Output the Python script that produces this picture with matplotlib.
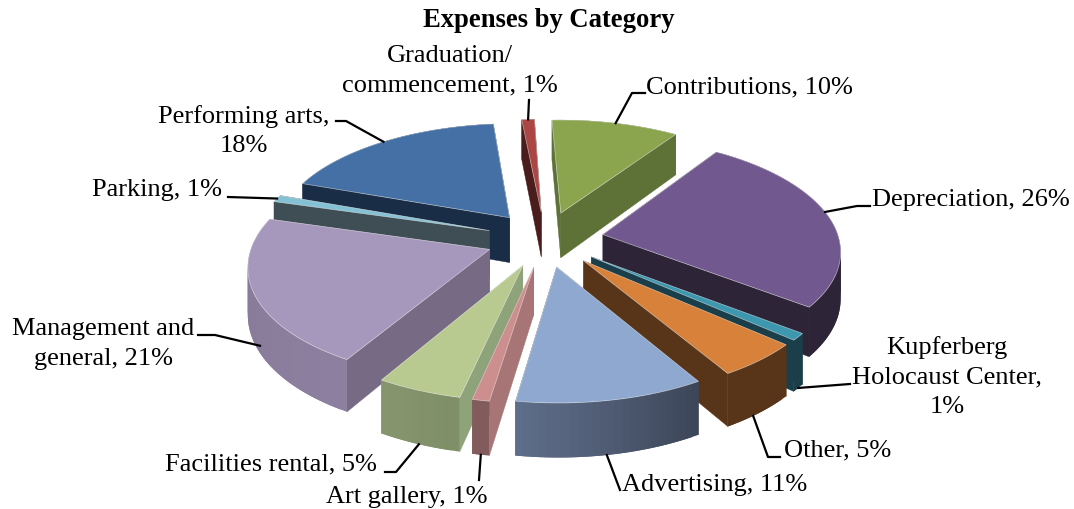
import numpy as np
import matplotlib
matplotlib.use("Agg")
import matplotlib.pyplot as plt
from matplotlib.patches import Polygon
from matplotlib.colors import to_rgb

categories = ["Contributions", "Depreciation", "Kupferberg Holocaust Center", "Other", "Advertising",
              "Art gallery", "Facilities rental", "Management and general", "Parking",
              "Performing arts", "Graduation/commencement"]
values = [10, 26, 1, 5, 11, 1, 5, 21, 1, 18, 1]
label_texts = ["Contributions, 10%", "Depreciation, 26%", "Kupferberg\nHolocaust Center,\n1%", "Other, 5%",
               "Advertising, 11%", "Art gallery, 1%", "Facilities rental, 5%", "Management and\ngeneral, 21%",
               "Parking, 1%", "Performing arts,\n18%", "Graduation/\ncommencement, 1%"]
title = "Expenses by Category"

top_colors = ["#8aa54e", "#71588f", "#3c97af", "#d7813a", "#8fa8d0", "#cd8e8e", "#b8ca90", "#a698bc", "#85c1d4", "#4570a6", "#aa4643"]
wall_colors = ["#5e7136", "#2e2438", "#1a3f4b", "#583519", "#3d4659", "#a77575", "#8ea37a", "#766a85", "#3e4e54", "#1a2d47", "#4a1c1c"]
outer_a = ["#5e7136", "#2e2438", "#1a3f4b", "#583519", "#3d4659", "#825c5c", "#7f8f68", "#8d7f9f", "#3e4e54", "#1a2d47", "#4a1c1c"]
outer_b = ["#5e7136", "#2e2438", "#1a3f4b", "#583519", "#5f6f8b", "#825c5c", "#87966f", "#857795", "#3e4e54", "#1a2d47", "#4a1c1c"]

label_pos = [(646, 87, "left"), (872, 200, "left"), (947, 377, "center"), (784, 450, "left"), (622, 485, "left"),
             (326, 497, "left"), (165, 464, "left"), (103, 344, "center"), (92, 190, "left"), (244, 131, "center"), (450, 71, "center")]
leader_mid = [[(632, 93), (645, 93)], [(857, 206), (870, 206)], [(850, 384)], [(768, 457), (780, 457)], [(620, 490)],
              [(479, 480)], [(396, 472), (385, 472)], [(215, 335), (198, 335)], [(228, 197)], [(346, 121), (336, 121)], [(529, 100)]]
leader_z = [0, 0, 1, 1, 1, 1, 1, 0.85, 0, 0, 0]
leader_shift = [0, -3, 0, 2, 1, 0, 0, -5, 0, 0, 0]

CX, CY, AX, BY, K, H, EXPL, START = 545, 239, 236, 111, 0.126, 46, 0.25, -2.0


def proj(u, v, z=0):
    w = 1 + K * v
    return CX + AX * u / w, CY - BY * v / w + z * H / w


plt.rcParams["font.family"] = ["Liberation Serif", "DejaVu Serif"]
fig = plt.figure(figsize=(10.74, 5.09), dpi=100)
ax = fig.add_axes([0, 0, 1, 1])
ax.set_xlim(0, 1074)
ax.set_ylim(509, 0)
ax.axis("off")

vals = np.array(values, float)
edges = START + np.concatenate([[0], np.cumsum(vals)]) / vals.sum() * 360
mids = np.radians((edges[:-1] + edges[1:]) / 2)
z = 2.0
anchors = {}
for i in np.argsort(-np.cos(mids)):
    a0, a1 = np.radians(edges[i]), np.radians(edges[i + 1])
    mid = mids[i]
    ou, ov = EXPL * np.sin(mid), EXPL * np.cos(mid)
    ang = np.linspace(a0, a1, max(3, int(np.degrees(a1 - a0) / 1.5)))
    us, vs = ou + np.sin(ang), ov + np.cos(ang)
    ca, cb = np.array(to_rgb(outer_a[i])), np.array(to_rgb(outer_b[i]))
    walls = []
    for e in (0, -1):
        q = [proj(ou, ov, 0), proj(us[e], vs[e], 0), proj(us[e], vs[e], 1), proj(ou, ov, 1)]
        walls.append(((ov + vs[e]) / 2, q, to_rgb(wall_colors[i]), 0.3))
    n = len(ang)
    for j in range(n - 1):
        t = j / max(1, n - 2)
        col = tuple(ca * (1 - t) + cb * t)
        k = min(j + 2, n - 1)
        q = [proj(us[j], vs[j], 0), proj(us[k], vs[k], 0), proj(us[k], vs[k], 1), proj(us[j], vs[j], 1)]
        walls.append(((vs[j] + vs[j + 1]) / 2, q, col, 0))
    for d, q, col, lw in sorted(walls, key=lambda w: -w[0]):
        ax.add_patch(Polygon(q, closed=True, fc=col, ec=col, lw=lw, zorder=z))
        z += 0.001
    topq = [proj(ou, ov, 0)] + [proj(a, b, 0) for a, b in zip(us, vs)]
    ax.add_patch(Polygon(topq, closed=True, fc=top_colors[i], ec=(0.95, 0.95, 0.95, 0.6), lw=0.5, zorder=z))
    z += 0.001
    s = mid + np.radians(leader_shift[i])
    anchors[i] = proj(ou + np.sin(s), ov + np.cos(s), leader_z[i])

for i, lab in enumerate(label_texts):
    x, y, ha = label_pos[i]
    ax.text(x, y, lab, fontsize=19, ha=ha, va="center", color="black", linespacing=1.42, zorder=50)
    pts = [anchors[i]] + leader_mid[i]
    ax.plot([p[0] for p in pts], [p[1] for p in pts], color="black", lw=1.6, zorder=40, solid_joinstyle="round")

ax.text(549, 20, title, fontsize=19.2, fontweight="bold", ha="center", va="center", color="black")
fig.savefig("out.png", dpi=100)
